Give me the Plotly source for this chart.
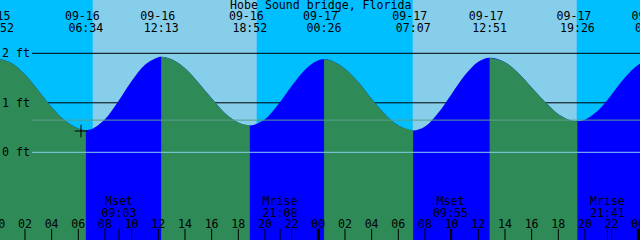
import plotly.graph_objects as go

# ---------------- data (hours counted from 09-16 00:00, heights in ft) ----------------
hours = list(range(0, 50))
hourly_ft = [1.90, 1.80, 1.57, 1.25, 0.91, 0.64, 0.48, 0.47, 0.67, 1.03,
             1.44, 1.77, 1.92, 1.88, 1.70, 1.41, 1.09, 0.79, 0.60, 0.54,
             0.67, 0.97, 1.34, 1.67, 1.86, 1.85, 1.69, 1.42, 1.08, 0.77,
             0.54, 0.44, 0.52, 0.80, 1.18, 1.56, 1.83, 1.91, 1.82, 1.60,
             1.31, 1.02, 0.77, 0.64, 0.66, 0.85, 1.17, 1.51, 1.77, 1.88]

tide_event_hours = [-0.133, 6.567, 12.217, 18.867, 24.433, 31.117, 36.85, 43.433, 49.067]
tide_event_ft = [1.90, 0.45, 1.93, 0.54, 1.88, 0.44, 1.91, 0.63, 1.88]
tide_event_date = ["09-15", "09-16", "09-16", "09-16", "09-17", "09-17", "09-17", "09-17", "09-18"]
tide_event_clock = ["23:52", "06:34", "12:13", "18:52", "00:26", "07:07", "12:51", "19:26", "01:04"]

sunrise_hours = [7.08, 31.08]
sunset_hours = [19.38, 43.38]

moon_event_hours = [9.05, 21.133, 33.917, 45.683]
moon_event_name = ["Mset", "Mrise", "Mset", "Mrise"]
moon_event_clock = ["09:03", "21:08", "09:55", "21:41"]

hour_tick_hours = [0, 2, 4, 6, 8, 10, 12, 14, 16, 18, 20, 22,
                   24, 26, 28, 30, 32, 34, 36, 38, 40, 42, 44, 46, 48]
hour_tick_labels = ["00", "02", "04", "06", "08", "10", "12", "14", "16", "18", "20", "22",
                    "00", "02", "04", "06", "08", "10", "12", "14", "16", "18", "20", "22", "00"]
midnight_hours = [0, 24, 48]

depth_line_ft = [1, 2]
axis_label_ft = [0, 1, 2]
axis_label_text = ["0 ft", "1 ft", "2 ft"]
datum_ft = 0
msl_ft = 0.65
now_hour = 6.2
now_ft = 0.43
title_text = "Hobe Sound bridge, Florida"

# ---------------- style ----------------
X_RANGE = [0.1275, 48.1275]
Y_RANGE = [-1.772, 3.077]
Y_BOT = Y_RANGE[0]
NIGHT = "#00BFFF"
DAY = "#87CEEB"
FLOOD = "#0000FF"
EBB = "#2E8B57"
FONT = dict(family="DejaVu Sans Mono", size=11.6, color="black")
LINE_START = 0.05  # paper fraction where depth lines begin

# merge hourly samples with extrema
pts = list(zip(tide_event_hours, tide_event_ft))
for h, v in zip(hours, hourly_ft):
    if min(abs(h - e) for e in tide_event_hours) > 0.2:
        pts.append((h, v))
pts.sort()
cx = [p[0] for p in pts]
cy = [p[1] for p in pts]

fig = go.Figure()

# full water body (flood colour), then ebb segments on top
fig.add_trace(go.Scatter(x=[cx[0], cx[-1]], y=[Y_BOT, Y_BOT], mode="lines",
                         line=dict(width=0), hoverinfo="skip"))
fig.add_trace(go.Scatter(x=cx, y=cy, mode="lines", fill="tonexty", fillcolor=FLOOD,
                         line=dict(width=0, shape="spline"), hoverinfo="skip"))
for i in range(len(tide_event_hours) - 1):
    t0, t1 = tide_event_hours[i], tide_event_hours[i + 1]
    if tide_event_ft[i] > tide_event_ft[i + 1]:
        sx = [x for x in cx if t0 <= x <= t1]
        sy = [y for x, y in zip(cx, cy) if t0 <= x <= t1]
        fig.add_trace(go.Scatter(x=[t0, t1], y=[Y_BOT, Y_BOT], mode="lines",
                                 line=dict(width=0), hoverinfo="skip"))
        fig.add_trace(go.Scatter(x=sx, y=sy, mode="lines", fill="tonexty", fillcolor=EBB,
                                 line=dict(width=0, shape="spline"), hoverinfo="skip"))

# ticks along the bottom
fig.add_trace(go.Scatter(x=hour_tick_hours + moon_event_hours,
                         y=[Y_BOT] * (len(hour_tick_hours) + len(moon_event_hours)),
                         mode="markers",
                         marker=dict(symbol="line-ns", size=16, color="black",
                                     line=dict(width=1, color="black")),
                         hoverinfo="skip"))
fig.add_trace(go.Scatter(x=midnight_hours, y=[Y_BOT] * len(midnight_hours), mode="markers",
                         marker=dict(symbol="line-ns", size=16, color="black",
                                     line=dict(width=3, color="black")),
                         hoverinfo="skip"))

# hour labels
fig.add_trace(go.Scatter(x=hour_tick_hours, y=[-1.479] * len(hour_tick_hours), mode="text",
                         text=hour_tick_labels, textposition="middle center",
                         textfont=FONT, hoverinfo="skip"))
# moon labels
fig.add_trace(go.Scatter(x=moon_event_hours, y=[-1.0] * len(moon_event_hours), mode="text",
                         text=moon_event_name, textposition="middle center",
                         textfont=FONT, hoverinfo="skip"))
fig.add_trace(go.Scatter(x=moon_event_hours, y=[-1.242] * len(moon_event_hours), mode="text",
                         text=moon_event_clock, textposition="middle center",
                         textfont=FONT, hoverinfo="skip"))
# tide event labels at top
fig.add_trace(go.Scatter(x=tide_event_hours, y=[2.723] * len(tide_event_hours), mode="text",
                         text=[d + "\u00a0" for d in tide_event_date], textposition="middle center",
                         textfont=FONT, hoverinfo="skip"))
fig.add_trace(go.Scatter(x=tide_event_hours, y=[2.481] * len(tide_event_hours), mode="text",
                         text=tide_event_clock, textposition="middle center",
                         textfont=FONT, hoverinfo="skip"))

# current-time mark
fig.add_trace(go.Scatter(x=[now_hour], y=[now_ft], mode="markers",
                         marker=dict(symbol="cross-thin", size=9, color="black",
                                     line=dict(width=1, color="black")),
                         hoverinfo="skip"))

shapes = []
for a, b in zip(sunrise_hours, sunset_hours):
    shapes.append(dict(type="rect", xref="x", yref="paper", x0=a, x1=b, y0=0, y1=1,
                       fillcolor=DAY, line=dict(width=0), layer="below"))
for lv in depth_line_ft:
    shapes.append(dict(type="line", xref="paper", yref="y", x0=LINE_START, x1=1, y0=lv, y1=lv,
                       line=dict(color="black", width=1), layer="below"))
shapes.append(dict(type="line", xref="paper", yref="y", x0=LINE_START, x1=1, y0=datum_ft, y1=datum_ft,
                   line=dict(color="#87CEEB", width=1), layer="above"))
shapes.append(dict(type="line", xref="paper", yref="y", x0=LINE_START, x1=1, y0=msl_ft, y1=msl_ft,
                   line=dict(color="#5A9E8C", width=1), layer="above"))

annotations = [dict(text=title_text, xref="paper", yref="y", x=0.5, y=2.966,
                    xanchor="center", yanchor="middle", showarrow=False, font=FONT)]
for lv, txt in zip(axis_label_ft, axis_label_text):
    annotations.append(dict(text=txt, xref="paper", yref="y", x=0, y=lv, xshift=0,
                            xanchor="left", yanchor="middle", showarrow=False, font=FONT))

fig.update_layout(
    width=640, height=240, autosize=False,
    margin=dict(l=0, r=0, t=0, b=0, pad=0),
    paper_bgcolor=NIGHT, plot_bgcolor=NIGHT,
    showlegend=False,
    xaxis=dict(range=X_RANGE, visible=False, fixedrange=True),
    yaxis=dict(range=Y_RANGE, visible=False, fixedrange=True),
    shapes=shapes, annotations=annotations,
)

fig.write_html("out.html", config={"displayModeBar": False})
